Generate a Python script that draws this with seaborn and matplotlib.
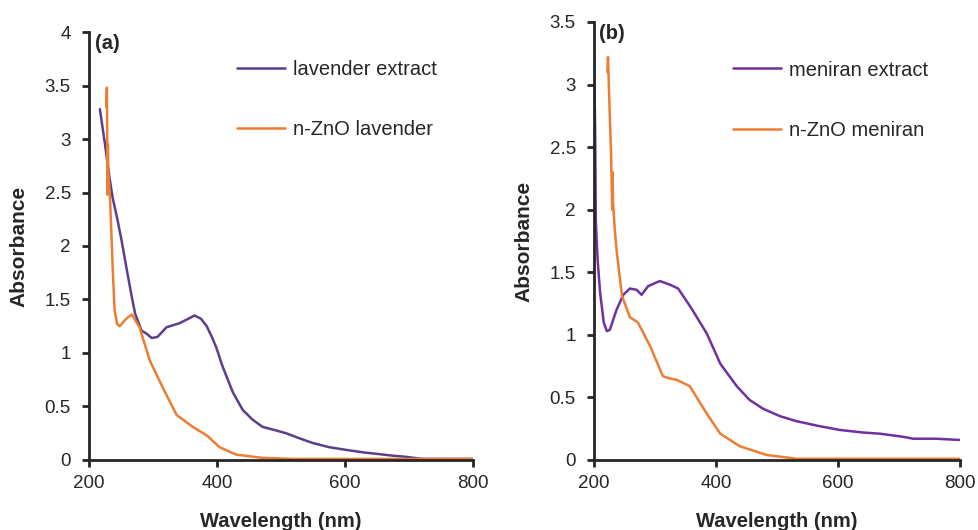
import numpy as np
import pandas as pd
import matplotlib.pyplot as plt
import seaborn as sns

# (a) lavender
wl_lav = [217, 225, 232, 237, 244, 251, 259, 267, 272, 282, 290, 298, 307, 321, 342, 365, 375, 384, 392, 399, 409, 425, 440, 455, 471, 490, 508, 530, 549, 575, 601, 630, 653, 675, 695, 720, 740, 770, 800]
abs_lav = [3.28, 2.95, 2.64, 2.45, 2.26, 2.05, 1.78, 1.52, 1.37, 1.21, 1.18, 1.14, 1.15, 1.24, 1.28, 1.35, 1.32, 1.25, 1.15, 1.05, 0.87, 0.63, 0.47, 0.38, 0.31, 0.28, 0.25, 0.20, 0.16, 0.12, 0.095, 0.07, 0.055, 0.04, 0.03, 0.01, 0.01, 0.01, 0.01]

wl_zno_lav = [227, 228, 228.5, 229, 229.5, 230, 233, 237, 240, 244, 248, 258, 267, 279, 295, 315, 337, 362, 384, 404, 430, 471, 520, 600, 700, 800]
abs_zno_lav = [3.30, 3.48, 3.00, 2.48, 2.95, 2.70, 2.43, 1.80, 1.40, 1.27, 1.25, 1.32, 1.36, 1.24, 0.93, 0.68, 0.42, 0.31, 0.23, 0.12, 0.05, 0.02, 0.01, 0.01, 0.01, 0.01]

# (b) meniran
wl_men = [200, 202, 203, 206, 210, 216, 221, 226, 237, 248, 259, 270, 278, 289, 308, 325, 338, 360, 385, 407, 434, 455, 477, 505, 532, 570, 603, 640, 669, 700, 713, 723, 760, 800]
abs_men = [3.32, 2.60, 1.92, 1.60, 1.34, 1.10, 1.03, 1.04, 1.20, 1.32, 1.37, 1.36, 1.32, 1.39, 1.43, 1.40, 1.37, 1.21, 1.01, 0.77, 0.59, 0.48, 0.41, 0.35, 0.31, 0.27, 0.24, 0.22, 0.21, 0.19, 0.18, 0.17, 0.17, 0.16]

wl_zno_men = [222, 223, 225, 228, 230, 230.5, 231, 234, 237, 246, 259, 272, 292, 313, 325, 336, 357, 385, 407, 439, 483, 532, 600, 700, 800]
abs_zno_men = [3.10, 3.22, 2.90, 2.45, 2.00, 2.30, 2.08, 1.85, 1.68, 1.31, 1.14, 1.10, 0.91, 0.67, 0.65, 0.64, 0.59, 0.37, 0.21, 0.11, 0.04, 0.01, 0.01, 0.01, 0.01]

purple_a = "#5b3f8c"
purple_b = "#7030a0"
orange = "#ed7d31"

sns.set_style("ticks")
plt.rcParams['font.family'] = ['Liberation Sans', 'DejaVu Sans']

fig = plt.figure(figsize=(9.79, 5.30), dpi=100)
ax1 = fig.add_axes([0.0909, 0.1321, 0.3922, 0.8075])
ax2 = fig.add_axes([0.6067, 0.1321, 0.3739, 0.8264])

df_a = pd.concat([
    pd.DataFrame({"wl": wl_lav, "abs": abs_lav, "s": "lavender extract"}),
    pd.DataFrame({"wl": wl_zno_lav, "abs": abs_zno_lav, "s": "n-ZnO lavender"}),
])
df_b = pd.concat([
    pd.DataFrame({"wl": wl_men, "abs": abs_men, "s": "meniran extract"}),
    pd.DataFrame({"wl": wl_zno_men, "abs": abs_zno_men, "s": "n-ZnO meniran"}),
])

sns.lineplot(data=df_a, x="wl", y="abs", hue="s", sort=False, estimator=None,
             palette=[purple_a, orange], linewidth=1.8, ax=ax1)
sns.lineplot(data=df_b, x="wl", y="abs", hue="s", sort=False, estimator=None,
             palette=[purple_b, orange], linewidth=1.8, ax=ax2)

panels = [(ax1, 4, "(a)", (0.385, 0.935)), (ax2, 3.5, "(b)", (0.380, 0.912))]
for ax, top, tag, anchor in panels:
    ticks = np.arange(0, top + 0.01, 0.5)
    ax.set_xlim(200, 800)
    ax.set_ylim(0, top)
    ax.set_xticks([200, 400, 600, 800])
    ax.set_yticks(ticks)
    ax.set_yticklabels([f"{v:g}" for v in ticks])
    ax.spines["top"].set_visible(False)
    ax.spines["right"].set_visible(False)
    ax.spines["left"].set_linewidth(2)
    ax.spines["bottom"].set_linewidth(2)
    ax.tick_params(axis="both", labelsize=13.5, width=2, length=5, direction="out")
    ax.tick_params(axis="y", pad=8)
    ax.tick_params(axis="x", pad=6)
    ax.set_xlabel("Wavelength (nm)", fontsize=14.5, fontweight="bold", labelpad=14)
    ax.set_ylabel("Absorbance", fontsize=15, fontweight="bold", labelpad=12)
    ax.text(0.015, 0.995, tag, transform=ax.transAxes, fontsize=14.5,
            fontweight="bold", va="top", ha="left")
    ax.legend(title=None, frameon=False, fontsize=14.5, labelspacing=2.05,
              handlelength=2.4, handletextpad=0.4, borderpad=0, borderaxespad=0,
              loc="upper left", bbox_to_anchor=anchor)

fig.savefig("out.png", dpi=100)
